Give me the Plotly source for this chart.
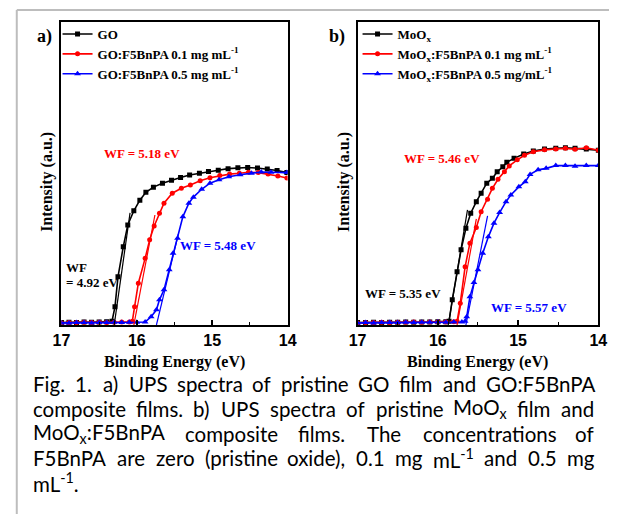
import glob
import re
import struct
import plotly.graph_objects as go

W, H = 618, 514

# ---------------- data ----------------
# Panel a) GO based films, binding energy (eV) vs intensity (a.u., normalised)
go_E = [17.00, 16.90, 16.80, 16.70, 16.60, 16.50, 16.40, 16.33, 16.29, 16.25, 16.18, 16.12, 16.04, 15.96,
        15.88, 15.78, 15.66, 15.54, 15.42, 15.30, 15.17, 15.05, 14.92, 14.79, 14.66, 14.53, 14.40, 14.27,
        14.14, 14.01]
go_I = [0.008, 0.009, 0.008, 0.010, 0.009, 0.010, 0.011, 0.012, 0.060, 0.159, 0.258, 0.330, 0.377, 0.412,
        0.438, 0.455, 0.468, 0.478, 0.487, 0.495, 0.501, 0.507, 0.511, 0.516, 0.519, 0.520, 0.518, 0.515,
        0.510, 0.503]

go01_E = [17.00, 16.90, 16.80, 16.70, 16.60, 16.50, 16.40, 16.30, 16.20, 16.10, 16.06, 16.03, 15.98, 15.89,
          15.83, 15.77, 15.70, 15.64, 15.53, 15.41, 15.29, 15.16, 15.03, 14.90, 14.77, 14.64, 14.52, 14.39,
          14.26, 14.13, 14.01]
go01_I = [0.007, 0.008, 0.008, 0.009, 0.008, 0.009, 0.008, 0.009, 0.010, 0.010, 0.012, 0.060, 0.138, 0.220,
          0.281, 0.327, 0.369, 0.402, 0.435, 0.451, 0.462, 0.476, 0.486, 0.493, 0.498, 0.501, 0.504, 0.503,
          0.498, 0.492, 0.485]

go05_E = [17.00, 16.90, 16.80, 16.70, 16.60, 16.50, 16.40, 16.30, 16.20, 16.10, 16.00, 15.89, 15.81, 15.74,
          15.70, 15.64, 15.57, 15.52, 15.46, 15.39, 15.31, 15.25, 15.14, 15.03, 14.91, 14.78, 14.63, 14.48,
          14.35, 14.22, 14.01]
go05_I = [0.007, 0.007, 0.008, 0.008, 0.007, 0.008, 0.008, 0.009, 0.008, 0.009, 0.009, 0.010, 0.027, 0.050,
          0.083, 0.116, 0.182, 0.237, 0.286, 0.357, 0.402, 0.422, 0.448, 0.468, 0.479, 0.489, 0.496, 0.501,
          0.505, 0.504, 0.503]

# linear extrapolation (onset) lines, panel a
tan_go_E, tan_go_I = [16.30, 16.09], [0.0, 0.370]
tan_go01_E, tan_go01_I = [16.04, 15.76], [0.0, 0.363]
tan_go05_E, tan_go05_I = [15.74, 15.45], [0.0, 0.300]

# Panel b) MoOx based films
mo_E = [17.00, 16.90, 16.80, 16.70, 16.60, 16.50, 16.40, 16.30, 16.20, 16.10, 16.00, 15.90, 15.86, 15.82,
        15.76, 15.71, 15.65, 15.59, 15.52, 15.46, 15.39, 15.32, 15.26, 15.19, 15.14, 15.05, 14.93, 14.81,
        14.67, 14.53, 14.41, 14.29, 14.15, 14.00]
mo_I = [0.008, 0.008, 0.009, 0.008, 0.009, 0.009, 0.010, 0.009, 0.010, 0.010, 0.011, 0.011, 0.012, 0.083,
        0.176, 0.248, 0.319, 0.369, 0.407, 0.435, 0.468, 0.484, 0.506, 0.522, 0.537, 0.550, 0.564, 0.574,
        0.581, 0.583, 0.585, 0.583, 0.581, 0.577]

mo01_E = [17.00, 16.90, 16.80, 16.70, 16.60, 16.50, 16.40, 16.30, 16.20, 16.10, 16.00, 15.90, 15.80, 15.76,
          15.72, 15.66, 15.60, 15.52, 15.46, 15.38, 15.32, 15.25, 15.17, 15.11, 15.01, 14.92, 14.81, 14.67,
          14.53, 14.41, 14.29, 14.15, 14.00]
mo01_I = [0.007, 0.008, 0.008, 0.009, 0.008, 0.009, 0.009, 0.010, 0.009, 0.010, 0.010, 0.010, 0.011, 0.012,
          0.072, 0.192, 0.270, 0.322, 0.374, 0.415, 0.451, 0.481, 0.506, 0.525, 0.545, 0.560, 0.572, 0.578,
          0.581, 0.583, 0.580, 0.585, 0.577]

mo05_E = [17.00, 16.90, 16.80, 16.70, 16.60, 16.50, 16.40, 16.30, 16.20, 16.10, 16.00, 15.90, 15.80, 15.70,
          15.66, 15.64, 15.60, 15.55, 15.50, 15.44, 15.37, 15.30, 15.23, 15.15, 15.09, 14.99, 14.91, 14.85,
          14.75, 14.65, 14.53, 14.41, 14.29, 14.15, 14.00]
mo05_I = [0.007, 0.008, 0.007, 0.008, 0.008, 0.008, 0.009, 0.008, 0.009, 0.009, 0.010, 0.009, 0.010, 0.010,
          0.012, 0.027, 0.093, 0.140, 0.182, 0.237, 0.291, 0.336, 0.371, 0.407, 0.429, 0.456, 0.473, 0.497,
          0.512, 0.517, 0.526, 0.526, 0.524, 0.526, 0.526]

tan_mo_E, tan_mo_I = [15.87, 15.63], [0.0, 0.380]
tan_mo01_E, tan_mo01_I = [15.76, 15.52], [0.0, 0.350]
tan_mo05_E, tan_mo05_I = [15.65, 15.38], [0.0, 0.360]

x_ticks = [17, 16, 15, 14]
x_range = [17, 14]

names_a = ["GO", "GO:F5BnPA 0.1 mg mL<sup>-1</sup>", "GO:F5BnPA 0.5 mg mL<sup>-1</sup>"]
names_b = ["MoO<sub>x</sub>", "MoO<sub>x</sub>:F5BnPA 0.1 mg mL<sup>-1</sup>",
           "MoO<sub>x</sub>:F5BnPA 0.5 mg/mL<sup>-1</sup>"]
colors = ["#000000", "#ff0000", "#0000ff"]
symbols = ["square", "circle", "triangle-up"]

caption_lines = [
    "Fig. 1. a) UPS spectra of pristine GO film and GO:F5BnPA",
    "composite films. b) UPS spectra of pristine MoO<sub>x</sub> film and",
    "MoO<sub>x</sub>:F5BnPA composite films. The concentrations of",
    "F5BnPA are zero (pristine oxide), 0.1 mg mL<sup>-1</sup> and 0.5 mg",
    "mL<sup>-1</sup>.",
]
caption_justified = [True, True, True, True, False]

# ---------------- helpers ----------------
def px(x):
    return x / W

def py(y):
    return 1 - y / H

SERIF = "Liberation Serif"
SANS = "Liberation Sans"
CAP_LEFT, CAP_RIGHT = 24, 601


def load_font_widths(path):
    """Advance-width lookup from an installed TrueType file (for justifying caption text)."""
    data = open(path, "rb").read()
    num_tables = struct.unpack(">H", data[4:6])[0]
    tables = {}
    for i in range(num_tables):
        tag, _cs, off, _ln = struct.unpack(">4sIII", data[12 + 16 * i:28 + 16 * i])
        tables[tag.decode("latin1")] = off
    head = tables["head"]
    upem = struct.unpack(">H", data[head + 18:head + 20])[0]
    hhea = tables["hhea"]
    num_hm = struct.unpack(">H", data[hhea + 34:hhea + 36])[0]
    hmtx = tables["hmtx"]
    adv = [struct.unpack(">H", data[hmtx + 4 * i:hmtx + 4 * i + 2])[0] for i in range(num_hm)]
    cmap = tables["cmap"]
    n = struct.unpack(">H", data[cmap + 2:cmap + 4])[0]
    sub = None
    for i in range(n):
        _pid, _eid, off = struct.unpack(">HHI", data[cmap + 4 + 8 * i:cmap + 12 + 8 * i])
        if struct.unpack(">H", data[cmap + off:cmap + off + 2])[0] == 4:
            sub = cmap + off
            break
    if sub is None:
        return None
    segx2 = struct.unpack(">H", data[sub + 6:sub + 8])[0]
    seg = segx2 // 2
    ends = struct.unpack(">%dH" % seg, data[sub + 14:sub + 14 + segx2])
    starts = struct.unpack(">%dH" % seg, data[sub + 16 + segx2:sub + 16 + 2 * segx2])
    deltas = struct.unpack(">%dh" % seg, data[sub + 16 + 2 * segx2:sub + 16 + 3 * segx2])
    roff_pos = sub + 16 + 3 * segx2
    roffs = struct.unpack(">%dH" % seg, data[roff_pos:roff_pos + segx2])

    def gid(c):
        for i in range(seg):
            if starts[i] <= c <= ends[i]:
                if roffs[i] == 0:
                    return (c + deltas[i]) & 0xFFFF
                addr = roff_pos + 2 * i + roffs[i] + 2 * (c - starts[i])
                g = struct.unpack(">H", data[addr:addr + 2])[0]
                return (g + deltas[i]) & 0xFFFF if g else 0
        return 0

    def width(s, size):
        return sum(adv[min(gid(ord(ch)), num_hm - 1)] for ch in s) * size / upem

    return width


def find_font():
    candidates = [
        ("Lato", 20.5, ["/usr/share/fonts/**/Lato-Regular.ttf", "/usr/share/fonts/**/Lato*.ttf"]),
        ("Open Sans", 19.5, ["/usr/share/fonts/**/OpenSans-Regular.ttf", "/usr/share/fonts/**/OpenSans*.ttf"]),
    ]
    for fam, size, pats in candidates:
        for pat in pats:
            files = sorted(glob.glob(pat, recursive=True), key=lambda f: ("Regular" not in f, len(f)))
            files = [f for f in files if all(k not in f for k in
                     ("Italic", "Bold", "Light", "Semi", "Extra", "Condensed", "Black", "Thin", "Medium",
                      "Heavy", "Hairline"))]
            for f in files:
                try:
                    wfun = load_font_widths(f)
                    if wfun is not None:
                        return fam, size, wfun
                except Exception:
                    pass
    return "Lato", 20.5, None


CAP_FONT, CAP_SIZE, font_width = find_font()


def rich_width(word, size):
    total = 0.0
    for part in re.split(r"(<su[bp]>.*?</su[bp]>)", word):
        if not part:
            continue
        m = re.match(r"<su[bp]>(.*?)</su[bp]>", part)
        if m:
            total += font_width(m.group(1), size * 0.7)
        else:
            total += font_width(part, size)
    return total


fig = go.Figure()

panels = [
    ("x", "y", "legend", [(go_E, go_I), (go01_E, go01_I), (go05_E, go05_I)],
     [(tan_go_E, tan_go_I), (tan_go01_E, tan_go01_I), (tan_go05_E, tan_go05_I)], names_a),
    ("x2", "y2", "legend2", [(mo_E, mo_I), (mo01_E, mo01_I), (mo05_E, mo05_I)],
     [(tan_mo_E, tan_mo_I), (tan_mo01_E, tan_mo01_I), (tan_mo05_E, tan_mo05_I)], names_b),
]

for xa, ya, leg, series, tans, names in panels:
    for (ex, iy), c, s, n in zip(series, colors, symbols, names):
        fig.add_trace(go.Scatter(
            x=ex, y=iy, xaxis=xa, yaxis=ya, mode="lines+markers", name=n, legend=leg,
            line=dict(color=c, width=1.6),
            marker=dict(symbol=s, size=5 if s != "triangle-up" else 6, color=c),
        ))
    for (ex, iy), c in zip(tans, colors):
        fig.add_trace(go.Scatter(
            x=ex, y=iy, xaxis=xa, yaxis=ya, mode="lines", showlegend=False,
            line=dict(color=c, width=1.2), hoverinfo="skip",
        ))

axis_common = dict(
    showline=True, linecolor="black", linewidth=2, mirror=True, showgrid=False, zeroline=False,
)
xa_common = dict(
    axis_common, range=x_range, tickvals=x_ticks, ticktext=[str(t) for t in x_ticks],
    ticks="inside", ticklen=5, tickwidth=1.5, tickcolor="black",
    tickfont=dict(family=SANS, size=16, color="black", weight="bold"),
    minor=dict(dtick=0.5, ticks="inside", ticklen=3, tickwidth=1.2, tickcolor="black"),
)
ya_common = dict(axis_common, range=[0, 1], showticklabels=False, ticks="")

legend_font = dict(family=SERIF, size=13, color="black", weight="bold")
y_dom = [py(325), py(22)]
fig.update_layout(
    width=W, height=H,
    margin=dict(l=0, r=0, t=0, b=0),
    paper_bgcolor="white", plot_bgcolor="white",
    xaxis=dict(xa_common, domain=[px(54), px(287)], anchor="y"),
    yaxis=dict(ya_common, domain=y_dom, anchor="x"),
    xaxis2=dict(xa_common, domain=[px(359), px(607)], anchor="y2"),
    yaxis2=dict(ya_common, domain=y_dom, anchor="x2"),
    legend=dict(x=px(50), y=py(19), xanchor="left", yanchor="top", bgcolor="rgba(0,0,0,0)",
                font=legend_font, tracegroupgap=0, itemwidth=30),
    legend2=dict(x=px(359), y=py(19), xanchor="left", yanchor="top", bgcolor="rgba(0,0,0,0)",
                 font=legend_font, tracegroupgap=0, itemwidth=30),
    showlegend=True,
)

ann = []
def text(x, y, t, size=13, color="black", family=SERIF, bold=True, xanchor="center", angle=0):
    ann.append(dict(x=px(x), y=py(y), xref="paper", yref="paper", text=t, showarrow=False,
                    xanchor=xanchor, yanchor="middle", textangle=angle, borderpad=0,
                    font=dict(family=family, size=size, color=color, weight="bold" if bold else "normal")))

# panel labels
text(37, 37, "a)", size=18)
text(338, 37, "b)", size=18)
# axis titles
text(39, 182, "Intensity (a.u.)", size=16, angle=-90)
text(345, 182, "Intensity (a.u.)", size=16, angle=-90)
text(170, 362, "Binding Energy (eV)", size=16)
text(483, 362, "Binding Energy (eV)", size=16)
# WF labels
text(137, 153, "WF = 5.18 eV", size=13, color="#ff0000")
text(58, 267, "WF", size=13, xanchor="left")
text(58, 282, "= 4.92 eV", size=13, xanchor="left")
text(215, 245, "WF = 5.48 eV", size=13, color="#0000ff")
text(446, 158, "WF = 5.46 eV", size=13, color="#ff0000")
text(406, 293, "WF = 5.35 eV", size=13)
text(536, 307, "WF = 5.57 eV", size=13, color="#0000ff")

# caption (justified like the source document)
cap_y = [384, 408.5, 433.5, 458, 482]
for line, just, yy in zip(caption_lines, caption_justified, cap_y):
    if just and font_width is not None:
        words = line.split(" ")
        widths = [rich_width(w, CAP_SIZE) for w in words]
        gap = (CAP_RIGHT - CAP_LEFT - sum(widths)) / (len(words) - 1)
        xx = CAP_LEFT
        for w, wd in zip(words, widths):
            text(xx, yy, w, size=CAP_SIZE, family=CAP_FONT, bold=False, xanchor="left")
            xx += wd + gap
    else:
        text(CAP_LEFT, yy, line, size=CAP_SIZE, family=CAP_FONT, bold=False, xanchor="left")

fig.update_layout(annotations=ann)

# light grey frame of the figure (top and left edges of the page box)
frame_style = dict(color="#bdbdbd", width=2)
fig.add_shape(type="line", xref="paper", yref="paper", x0=px(8), x1=1, y0=py(10), y1=py(10),
              line=frame_style, layer="above")
fig.add_shape(type="line", xref="paper", yref="paper", x0=px(8), x1=px(8), y0=py(10), y1=0,
              line=frame_style, layer="above")

fig.write_html("out.html", config={"displayModeBar": False},
               post_script="document.body.style.margin='0';document.body.style.overflow='hidden';")
